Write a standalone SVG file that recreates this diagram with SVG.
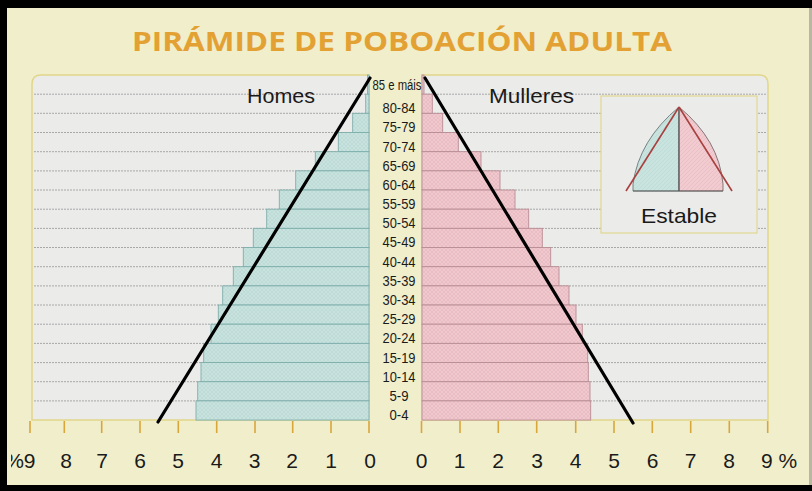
<svg xmlns="http://www.w3.org/2000/svg" width="812" height="491" viewBox="0 0 812 491">
<defs>
<pattern id="texM" width="4" height="4" patternUnits="userSpaceOnUse">
<rect width="4" height="4" fill="#c8e2de"/>
<path d="M0,4 L4,0 M0,0 L4,4" stroke="#b7d6d2" stroke-width="0.6"/>
</pattern>
<pattern id="texF" width="4" height="4" patternUnits="userSpaceOnUse">
<rect width="4" height="4" fill="#f0c9ce"/>
<path d="M0,4 L4,0 M0,0 L4,4" stroke="#e4b6bc" stroke-width="0.6"/>
</pattern>
<pattern id="texMs" width="4" height="4" patternUnits="userSpaceOnUse">
<rect width="4" height="4" fill="#c9e3df"/>
<path d="M0,4 L4,0" stroke="#b9d7d3" stroke-width="0.6"/>
</pattern>
<pattern id="texFs" width="4" height="4" patternUnits="userSpaceOnUse">
<rect width="4" height="4" fill="#f1cbd0"/>
<path d="M0,4 L4,0" stroke="#e4b8be" stroke-width="0.6"/>
</pattern>
<clipPath id="clipPct"><rect x="11" y="440" width="40" height="40"/></clipPath>
</defs>
<style>
.panel{fill:#ebebea;stroke:#e2d68a;stroke-width:1.5}
.grid{stroke:#a0a0a0;stroke-width:0.9;stroke-dasharray:2 1}
.bm{fill:url(#texM);stroke:#7eaeab;stroke-width:0.9}
.bf{fill:url(#texF);stroke:#b98d94;stroke-width:0.9}
.age{font-family:"Liberation Sans",Arial,sans-serif;font-size:14px;fill:#1a1a1a;text-anchor:middle}
.ax{font-family:"Liberation Sans",Arial,sans-serif;font-size:21px;fill:#1a1a1a;text-anchor:middle}
.lbl{font-family:"Liberation Sans",Arial,sans-serif;font-size:21px;fill:#1a1a1a;text-anchor:middle}
.tick{stroke:#d9a63a;stroke-width:1.6}
.trend{stroke:#000;stroke-width:3.2;stroke-linecap:round}
</style>
<rect x="0" y="0" width="812" height="491" fill="#000"/>
<rect x="7" y="8" width="802" height="477" fill="#f1eecb"/>
<rect x="809" y="8" width="3" height="477" fill="#b9b7a2"/>

<g id="title">
<text x="402" y="51" font-family="'Open Sans','Liberation Sans',Arial,sans-serif" font-weight="bold" font-size="27" fill="#e3a133" text-anchor="middle" textLength="540" lengthAdjust="spacingAndGlyphs">PIRÁMIDE DE POBOACIÓN ADULTA</text>
</g>

<g id="panel-homes">
<path class="panel" d="M369,420 L32,420 L32,84 Q32,75 41,75 L369,75 Z"/>
<g class="grid">
<line x1="34" y1="94.2" x2="369" y2="94.2"/><line x1="34" y1="113.3" x2="369" y2="113.3"/><line x1="34" y1="132.5" x2="369" y2="132.5"/><line x1="34" y1="151.7" x2="369" y2="151.7"/><line x1="34" y1="170.9" x2="369" y2="170.9"/><line x1="34" y1="190" x2="369" y2="190"/><line x1="34" y1="209.2" x2="369" y2="209.2"/><line x1="34" y1="228.4" x2="369" y2="228.4"/><line x1="34" y1="247.5" x2="369" y2="247.5"/><line x1="34" y1="266.7" x2="369" y2="266.7"/><line x1="34" y1="285.9" x2="369" y2="285.9"/><line x1="34" y1="305" x2="369" y2="305"/><line x1="34" y1="324.2" x2="369" y2="324.2"/><line x1="34" y1="343.4" x2="369" y2="343.4"/><line x1="34" y1="362.6" x2="369" y2="362.6"/><line x1="34" y1="381.7" x2="369" y2="381.7"/><line x1="34" y1="400.9" x2="369" y2="400.9"/>
</g>
<g id="bars-homes">
<rect class="bm" x="367.5" y="75" width="1.5" height="19.17"/>
<rect class="bm" x="365.7" y="94.17" width="3.3" height="19.17"/>
<rect class="bm" x="352.7" y="113.34" width="16.3" height="19.17"/>
<rect class="bm" x="338.3" y="132.51" width="30.7" height="19.17"/>
<rect class="bm" x="315.3" y="151.68" width="53.7" height="19.17"/>
<rect class="bm" x="295.7" y="170.85" width="73.3" height="19.17"/>
<rect class="bm" x="279.3" y="190.02" width="89.7" height="19.17"/>
<rect class="bm" x="266.7" y="209.19" width="102.3" height="19.17"/>
<rect class="bm" x="253.3" y="228.36" width="115.7" height="19.17"/>
<rect class="bm" x="243.3" y="247.53" width="125.7" height="19.17"/>
<rect class="bm" x="233.3" y="266.7" width="135.7" height="19.17"/>
<rect class="bm" x="222.7" y="285.87" width="146.3" height="19.17"/>
<rect class="bm" x="218.3" y="305.04" width="150.7" height="19.17"/>
<rect class="bm" x="211" y="324.21" width="158" height="19.17"/>
<rect class="bm" x="203.7" y="343.38" width="165.3" height="19.17"/>
<rect class="bm" x="201" y="362.55" width="168" height="19.17"/>
<rect class="bm" x="197.7" y="381.72" width="171.3" height="19.17"/>
<rect class="bm" x="196" y="400.89" width="173" height="19.17"/>
</g>
<text class="lbl" x="281" y="103" textLength="68" lengthAdjust="spacingAndGlyphs">Homes</text>
</g>

<g id="panel-mulleres">
<path class="panel" d="M422,420 L768,420 L768,84 Q768,75 759,75 L422,75 Z"/>
<g class="grid">
<line x1="422" y1="94.2" x2="766" y2="94.2"/><line x1="422" y1="113.3" x2="766" y2="113.3"/><line x1="422" y1="132.5" x2="766" y2="132.5"/><line x1="422" y1="151.7" x2="766" y2="151.7"/><line x1="422" y1="170.9" x2="766" y2="170.9"/><line x1="422" y1="190" x2="766" y2="190"/><line x1="422" y1="209.2" x2="766" y2="209.2"/><line x1="422" y1="228.4" x2="766" y2="228.4"/><line x1="422" y1="247.5" x2="766" y2="247.5"/><line x1="422" y1="266.7" x2="766" y2="266.7"/><line x1="422" y1="285.9" x2="766" y2="285.9"/><line x1="422" y1="305" x2="766" y2="305"/><line x1="422" y1="324.2" x2="766" y2="324.2"/><line x1="422" y1="343.4" x2="766" y2="343.4"/><line x1="422" y1="362.6" x2="766" y2="362.6"/><line x1="422" y1="381.7" x2="766" y2="381.7"/><line x1="422" y1="400.9" x2="766" y2="400.9"/>
</g>
<g id="bars-mulleres">
<rect class="bf" x="422" y="75" width="2" height="19.17"/>
<rect class="bf" x="422" y="94.17" width="10.3" height="19.17"/>
<rect class="bf" x="422" y="113.34" width="20.7" height="19.17"/>
<rect class="bf" x="422" y="132.51" width="36.3" height="19.17"/>
<rect class="bf" x="422" y="151.68" width="59" height="19.17"/>
<rect class="bf" x="422" y="170.85" width="78" height="19.17"/>
<rect class="bf" x="422" y="190.02" width="93" height="19.17"/>
<rect class="bf" x="422" y="209.19" width="106.7" height="19.17"/>
<rect class="bf" x="422" y="228.36" width="120.3" height="19.17"/>
<rect class="bf" x="422" y="247.53" width="128.7" height="19.17"/>
<rect class="bf" x="422" y="266.7" width="137" height="19.17"/>
<rect class="bf" x="422" y="285.87" width="147" height="19.17"/>
<rect class="bf" x="422" y="305.04" width="154" height="19.17"/>
<rect class="bf" x="422" y="324.21" width="160.3" height="19.17"/>
<rect class="bf" x="422" y="343.38" width="165.7" height="19.17"/>
<rect class="bf" x="422" y="362.55" width="166.3" height="19.17"/>
<rect class="bf" x="422" y="381.72" width="168" height="19.17"/>
<rect class="bf" x="422" y="400.89" width="168.7" height="19.17"/>
</g>
<text class="lbl" x="531.5" y="103" textLength="85" lengthAdjust="spacingAndGlyphs">Mulleres</text>
</g>

<g id="ages">
<text class="age" x="397" y="89.6" font-size="12" textLength="49" lengthAdjust="spacingAndGlyphs">85 e máis</text>
<text class="age" x="399" y="113.3" textLength="33" lengthAdjust="spacingAndGlyphs">80-84</text>
<text class="age" x="399" y="132.4" textLength="33" lengthAdjust="spacingAndGlyphs">75-79</text>
<text class="age" x="399" y="151.6" textLength="33" lengthAdjust="spacingAndGlyphs">70-74</text>
<text class="age" x="399" y="170.8" textLength="33" lengthAdjust="spacingAndGlyphs">65-69</text>
<text class="age" x="399" y="189.9" textLength="33" lengthAdjust="spacingAndGlyphs">60-64</text>
<text class="age" x="399" y="209.1" textLength="33" lengthAdjust="spacingAndGlyphs">55-59</text>
<text class="age" x="399" y="228.3" textLength="33" lengthAdjust="spacingAndGlyphs">50-54</text>
<text class="age" x="399" y="247.4" textLength="33" lengthAdjust="spacingAndGlyphs">45-49</text>
<text class="age" x="399" y="266.6" textLength="33" lengthAdjust="spacingAndGlyphs">40-44</text>
<text class="age" x="399" y="285.8" textLength="33" lengthAdjust="spacingAndGlyphs">35-39</text>
<text class="age" x="399" y="305" textLength="33" lengthAdjust="spacingAndGlyphs">30-34</text>
<text class="age" x="399" y="324.1" textLength="33" lengthAdjust="spacingAndGlyphs">25-29</text>
<text class="age" x="399" y="343.3" textLength="33" lengthAdjust="spacingAndGlyphs">20-24</text>
<text class="age" x="399" y="362.5" textLength="33" lengthAdjust="spacingAndGlyphs">15-19</text>
<text class="age" x="399" y="381.6" textLength="33" lengthAdjust="spacingAndGlyphs">10-14</text>
<text class="age" x="399" y="400.8" textLength="19" lengthAdjust="spacingAndGlyphs">5-9</text>
<text class="age" x="399" y="420" textLength="19" lengthAdjust="spacingAndGlyphs">0-4</text>
</g>

<g id="trend-lines">
<line class="trend" x1="370" y1="78" x2="158" y2="422"/>
<line class="trend" x1="425" y1="78" x2="633" y2="423"/>
</g>

<g id="inset-estable">
<rect x="601" y="96" width="156" height="137" fill="#ebebea" stroke="#e2d78f" stroke-width="1.2"/>
<path d="M679,107 Q639,140 633,184 L633,191 L679,191 Z" fill="url(#texMs)" stroke="#5a6a68" stroke-width="0.8"/>
<path d="M679,107 Q719,140 723,184 L723,191 L679,191 Z" fill="url(#texFs)" stroke="#6a5a5c" stroke-width="0.8"/>
<line x1="679" y1="107" x2="679" y2="191" stroke="#555" stroke-width="1"/>
<line x1="633" y1="191" x2="723" y2="191" stroke="#555" stroke-width="0.8"/>
<line x1="679" y1="107" x2="626" y2="191" stroke="#a8403f" stroke-width="1.6"/>
<line x1="679" y1="107" x2="732" y2="191" stroke="#a8403f" stroke-width="1.6"/>
<text class="lbl" x="679" y="223" font-size="22" textLength="76" lengthAdjust="spacingAndGlyphs">Estable</text>
</g>

<g id="axis">
<g class="tick">
<line x1="30" y1="421" x2="30" y2="433"/><line x1="64.3" y1="421" x2="64.3" y2="433"/><line x1="101.7" y1="421" x2="101.7" y2="433"/><line x1="140" y1="421" x2="140" y2="433"/><line x1="178.3" y1="421" x2="178.3" y2="433"/><line x1="216.7" y1="421" x2="216.7" y2="433"/><line x1="255" y1="421" x2="255" y2="433"/><line x1="292.7" y1="421" x2="292.7" y2="433"/><line x1="331" y1="421" x2="331" y2="433"/><line x1="369" y1="421" x2="369" y2="433"/>
<line x1="421.5" y1="421" x2="421.5" y2="433"/><line x1="460" y1="421" x2="460" y2="433"/><line x1="498.3" y1="421" x2="498.3" y2="433"/><line x1="536.7" y1="421" x2="536.7" y2="433"/><line x1="575.7" y1="421" x2="575.7" y2="433"/><line x1="614" y1="421" x2="614" y2="433"/><line x1="652.3" y1="421" x2="652.3" y2="433"/><line x1="690.7" y1="421" x2="690.7" y2="433"/><line x1="729.3" y1="421" x2="729.3" y2="433"/><line x1="767.7" y1="421" x2="767.7" y2="433"/>
</g>
<text class="ax" x="35.5" y="468" style="text-anchor:end" clip-path="url(#clipPct)">%9</text>
<text class="ax" x="66" y="468">8</text>
<text class="ax" x="102" y="468">7</text>
<text class="ax" x="140" y="468">6</text>
<text class="ax" x="178" y="468">5</text>
<text class="ax" x="216.5" y="468">4</text>
<text class="ax" x="254.5" y="468">3</text>
<text class="ax" x="292" y="468">2</text>
<text class="ax" x="331" y="468">1</text>
<text class="ax" x="370" y="468">0</text>
<text class="ax" x="421.7" y="468">0</text>
<text class="ax" x="459.5" y="468">1</text>
<text class="ax" x="498" y="468">2</text>
<text class="ax" x="537" y="468">3</text>
<text class="ax" x="575.5" y="468">4</text>
<text class="ax" x="614" y="468">5</text>
<text class="ax" x="652.5" y="468">6</text>
<text class="ax" x="690.5" y="468">7</text>
<text class="ax" x="729" y="468">8</text>
<text class="ax" x="761" y="468" style="text-anchor:start">9 %</text>
</g>
<rect x="0" y="0" width="7" height="491" fill="#000"/>
</svg>
